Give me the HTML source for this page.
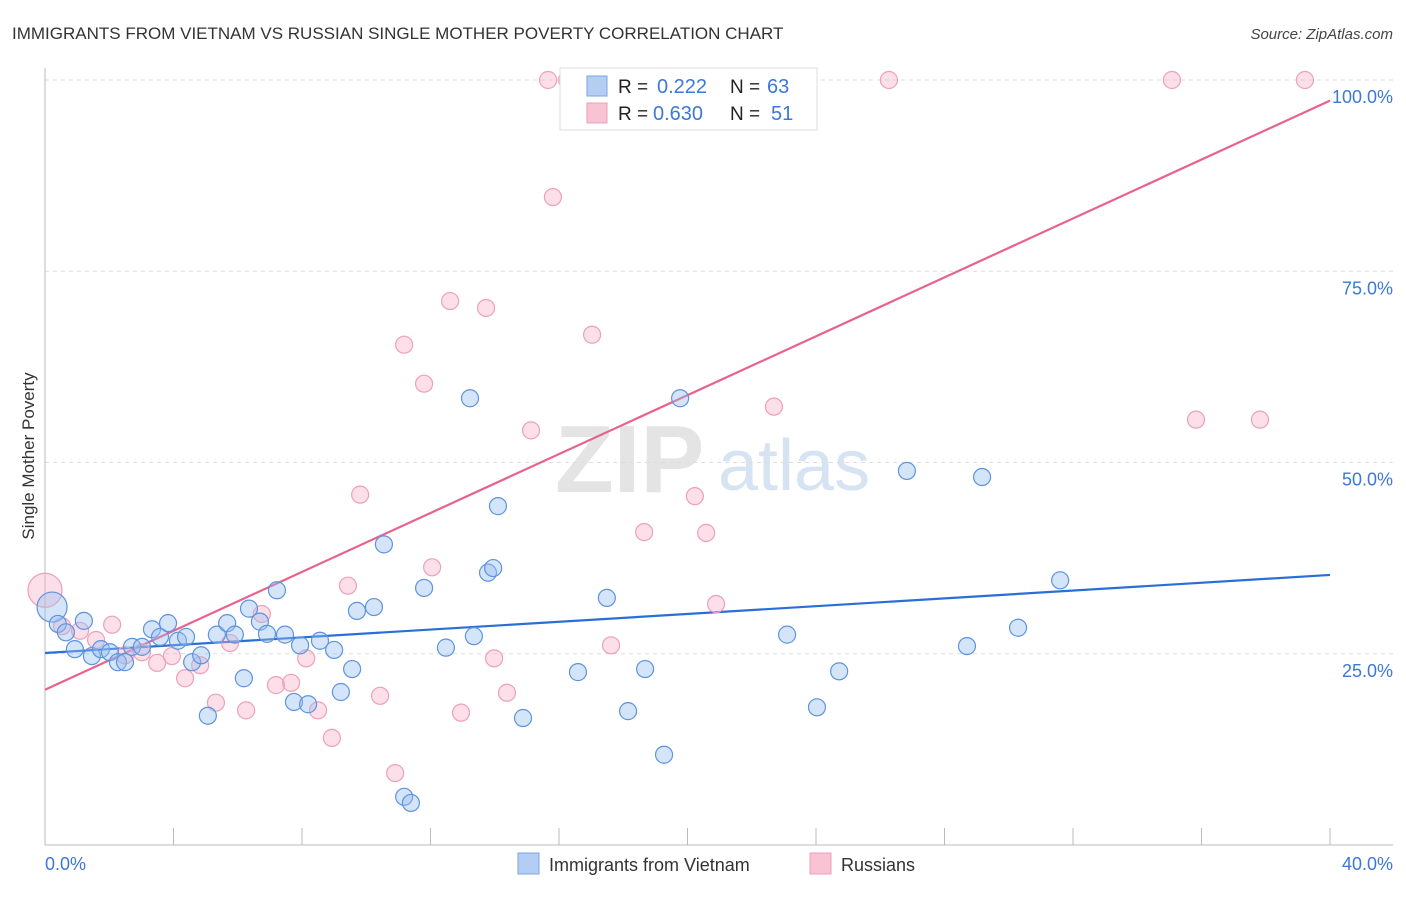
<!DOCTYPE html>
<html><head><meta charset="utf-8"><style>
body{margin:0;background:#fff;font-family:"Liberation Sans",sans-serif;}
svg text{font-family:"Liberation Sans",sans-serif;}
</style></head><body>
<svg id="chart" width="1406" height="892" viewBox="0 0 1406 892" xmlns="http://www.w3.org/2000/svg">
<text x="12" y="39" font-size="17" fill="#333">IMMIGRANTS FROM VIETNAM VS RUSSIAN SINGLE MOTHER POVERTY CORRELATION CHART</text>
<text x="1393" y="39" font-size="15" fill="#444" font-style="italic" text-anchor="end">Source: ZipAtlas.com</text>
<g>
<text x="555" y="492" font-size="96" fill="#e4e4e4" font-family="Liberation Serif" font-weight="bold">ZIP</text>
<text x="718" y="490" font-size="72" fill="#d6e3f3">atlas</text>
</g>
<g id="grid"></g>
<g id="axes"></g>
<text transform="translate(34,456) rotate(-90)" font-size="17" fill="#333" text-anchor="middle">Single Mother Poverty</text>
<g id="trend"></g>
<g id="pts"></g>
<g>
<rect x="560" y="68" width="257" height="62" fill="#fff" stroke="#ddd"/>
<rect x="587" y="76" width="20" height="20" fill="#b4cdf3" stroke="#7aa5e6"/>
<rect x="587" y="103" width="20" height="20" fill="#f8c3d3" stroke="#ee9fb8"/>
<text x="618" y="93" font-size="19" fill="#222">R = </text><text x="657" y="93" font-size="20" fill="#3b78d8">0.222</text>
<text x="730" y="93" font-size="19" fill="#222">N = </text><text x="767" y="93" font-size="20" fill="#3b78d8">63</text>
<text x="618" y="120" font-size="19" fill="#222">R = </text><text x="653" y="120" font-size="20" fill="#3b78d8">0.630</text>
<text x="730" y="120" font-size="19" fill="#222">N = </text><text x="771" y="120" font-size="20" fill="#3b78d8">51</text>
</g>
<g>
<rect x="518" y="853" width="21" height="21" fill="#b4cdf3" stroke="#7aa5e6"/>
<text x="549" y="871" font-size="18" fill="#333">Immigrants from Vietnam</text>
<rect x="810" y="853" width="21" height="21" fill="#f8c3d3" stroke="#ee9fb8"/>
<text x="841" y="871" font-size="18" fill="#333">Russians</text>
</g>
</svg>
<script>
const xTicks=[0,5,10,15,20,25,30,35,40];
const yTicks=[25,50,75,100];
const yTickLabels=["25.0%","50.0%","75.0%","100.0%"];
const xEndLabels=["0.0%","40.0%"];
const blueX=[0.22,0.40,1.21,0.65,0.93,1.46,1.74,2.02,2.27,2.49,2.71,3.02,3.33,3.58,3.83,4.14,4.39,4.58,4.86,5.07,5.35,5.67,5.91,6.19,6.35,6.69,6.91,7.22,7.47,7.75,7.94,8.19,8.56,9.00,9.21,9.56,9.71,10.24,10.55,11.18,11.39,11.80,12.48,13.23,13.35,13.79,13.95,14.10,14.88,16.59,17.49,18.15,18.68,19.27,19.77,23.10,24.03,24.72,26.83,28.70,29.17,30.29,31.60];
const blueY=[31.1,28.9,29.3,27.8,25.6,24.7,25.6,25.2,23.9,23.9,25.9,25.9,28.2,27.2,29.0,26.7,27.2,23.9,24.8,16.9,27.5,29.0,27.5,21.8,30.9,29.2,27.6,33.3,27.5,18.7,26.1,18.4,26.7,25.5,20.0,23.0,30.6,31.1,39.3,6.3,5.5,33.6,25.8,58.4,27.3,35.6,36.2,44.3,16.6,22.6,32.3,17.5,23.0,11.8,58.4,27.5,18.0,22.7,48.9,26.0,48.1,28.4,34.6];
const pinkX=[0,0.53,1.09,1.59,2.09,2.49,3.02,3.49,3.95,4.36,4.83,5.32,5.76,6.26,6.75,7.19,7.66,8.13,8.50,8.93,9.43,9.81,10.43,10.90,11.18,11.80,12.05,12.61,12.95,13.73,13.98,14.38,15.13,15.66,15.81,16.25,17.03,17.62,18.05,18.65,20.23,20.58,20.89,22.44,22.69,26.27,35.08,35.83,37.82,39.22];
const pinkY=[33.3,28.6,28.0,26.8,28.8,24.8,25.2,23.8,24.7,21.8,23.5,18.6,26.4,17.6,30.2,20.9,21.2,24.4,17.6,14.0,33.9,45.8,19.5,9.4,65.4,60.3,36.3,71.1,17.3,70.2,24.4,19.9,54.2,100,84.7,100,66.7,26.1,100,40.9,45.6,40.8,31.5,100,57.3,100,100,55.6,55.6,100];
const blueTrend=[25.1,35.3];
const pinkTrend=[20.3,97.3];
const NS="http://www.w3.org/2000/svg";
const X=v=>45+v/40*1285;
const Y=v=>845-v/100*765;
function mk(tag,attrs,parent){const e=document.createElementNS(NS,tag);for(const k in attrs)e.setAttribute(k,attrs[k]);parent.appendChild(e);return e;}
const grid=document.getElementById('grid'),axes=document.getElementById('axes');
yTicks.forEach((t,i)=>{
 const l=mk('line',{x1:45,x2:1393,y1:Y(t),y2:Y(t),stroke:'#ddd','stroke-dasharray':'4,4'},grid);
 
 
 const tx=mk('text',{x:1393,y:Y(t)+23,'font-size':18,fill:'#3b78d8','text-anchor':'end'},axes);
 tx.textContent=yTickLabels[i];
 
 
});
mk('line',{x1:45,x2:45,y1:68,y2:845,stroke:'#bbb'},axes);
mk('line',{x1:45,x2:1393,y1:845,y2:845,stroke:'#bbb'},axes);
for(let i=0;i<=10;i++){const v=i*4;const t=mk('line',{x1:X(v),x2:X(v),y1:828,y2:845,stroke:'#bbb'},axes);
 
 }
const l0=mk('text',{x:45,y:870,'font-size':18,fill:'#3b78d8'},axes);l0.textContent=xEndLabels[0];


const l1=mk('text',{x:1393,y:870,'font-size':18,fill:'#3b78d8','text-anchor':'end'},axes);l1.textContent=xEndLabels[1];


const pts=document.getElementById('pts');
function series(xs,ys,fill,stroke,name){xs.forEach((x,i)=>{const r=(i===0)?(name==='pink-point'?17:15):8.5;
 const c=mk('circle',{cx:X(x),cy:Y(ys[i]),r:r,fill:fill,stroke:stroke,'stroke-width':1.2},pts);
 
 });}
series(pinkX,pinkY,'rgba(246,172,196,0.38)','#eea0b9','pink-point');
series(blueX,blueY,'rgba(150,190,240,0.4)','#5e93df','blue-point');
const tr=document.getElementById('trend');
const pl=mk('line',{x1:X(0),y1:Y(pinkTrend[0]),x2:X(40),y2:Y(pinkTrend[1]),stroke:'#e8628e','stroke-width':2.2},tr);


const bl=mk('line',{x1:X(0),y1:Y(blueTrend[0]),x2:X(40),y2:Y(blueTrend[1]),stroke:'#2a6fd6','stroke-width':2.2},tr);


</script>
</body></html>
